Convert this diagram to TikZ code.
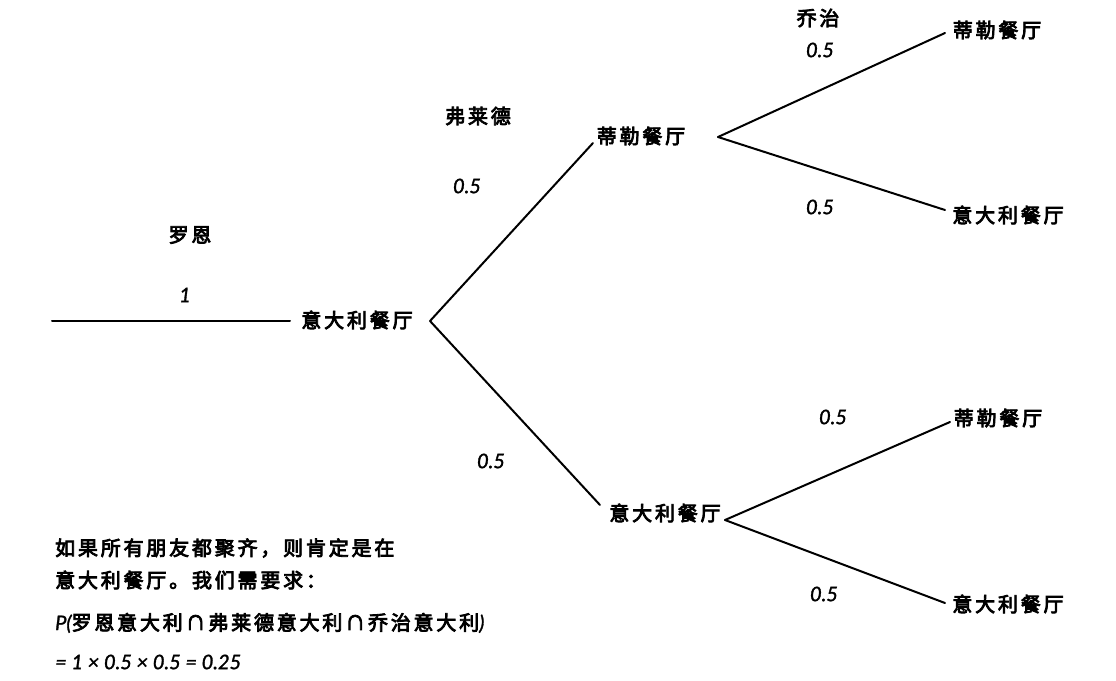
\documentclass[tikz,border=0pt]{standalone}
\usepackage{fontspec}
\newfontfamily\cjk[LetterSpace=14, FakeBold=4]{Noto Sans CJK SC}
\newfontfamily\num[FakeBold=1.5]{Lato}
\tikzset{
  lbl/.style={font=\fontsize{20}{24}\selectfont\cjk, inner sep=0pt},
  place/.style={font=\fontsize{20}{24}\selectfont\cjk, inner sep=0pt},
  prob/.style={font=\fontsize{20}{24}\selectfont\num\itshape, inner sep=0pt},
  edge/.style={line width=2pt, line cap=round},
  txt/.style={font=\fontsize{20}{24}\selectfont\cjk, anchor=west, inner sep=0pt},
}
\begin{document}
\begin{tikzpicture}[x=1pt,y=-1pt]
\useasboundingbox (0,0) rectangle (1116,680);
% nodes
\coordinate (start) at (52,321);
\node[place] (A) at (357,320) {意大利餐厅};
\node[place] (B) at (641,136) {蒂勒餐厅};
\node[place] (C) at (665,513) {意大利餐厅};
\node[place] (B1) at (997,30) {蒂勒餐厅};
\node[place] (B2) at (1008,215) {意大利餐厅};
\node[place] (C1) at (998,418) {蒂勒餐厅};
\node[place] (C2) at (1008,604) {意大利餐厅};
% edges
\draw[edge] (start) -- ([shift={(-67,1)}]A.center);
\draw[edge] ([shift={(73,1)}]A.center) -- ([shift={(-48,7)}]B.center);
\draw[edge] ([shift={(73,1)}]A.center) -- ([shift={(-65,-8)}]C.center);
\draw[edge] ([shift={(77,1)}]B.center) -- ([shift={(-52,3)}]B1.center);
\draw[edge] ([shift={(77,1)}]B.center) -- ([shift={(-63,-5)}]B2.center);
\draw[edge] ([shift={(60,7)}]C.center) -- ([shift={(-48,4)}]C1.center);
\draw[edge] ([shift={(60,7)}]C.center) -- ([shift={(-63,-1)}]C2.center);
% labels
\node[lbl] (ron) at (190,235) {罗恩};
\node[prob] (p1) at (185,295) {1};
\node[lbl] (fred) at (478,116) {弗莱德};
\node[prob] (p2) at (467,186) {0.5};
\node[prob] (p3) at (491,461) {0.5};
\node[lbl] (george) at (818,18) {乔治};
\node[prob] (p4) at (820,50) {0.5};
\node[prob] (p5) at (820,207) {0.5};
\node[prob] (p6) at (833,417) {0.5};
\node[prob] (p7) at (824,594) {0.5};
% bottom text
\node[txt] (t1) at (55,548) {如果所有朋友都聚齐，则肯定是在};
\node[txt] (t2) at (55,580) {意大利餐厅。我们需要求：};
\node[txt] (t3) at (55,623) {{\num\itshape P(}罗恩意大利∩弗莱德意大利∩乔治意大利{\num\itshape )}};
\node[txt, font=\fontsize{20}{24}\selectfont\num\itshape] (t4) at (55,662) {= 1 × 0.5 × 0.5 = 0.25};
\end{tikzpicture}
\end{document}
